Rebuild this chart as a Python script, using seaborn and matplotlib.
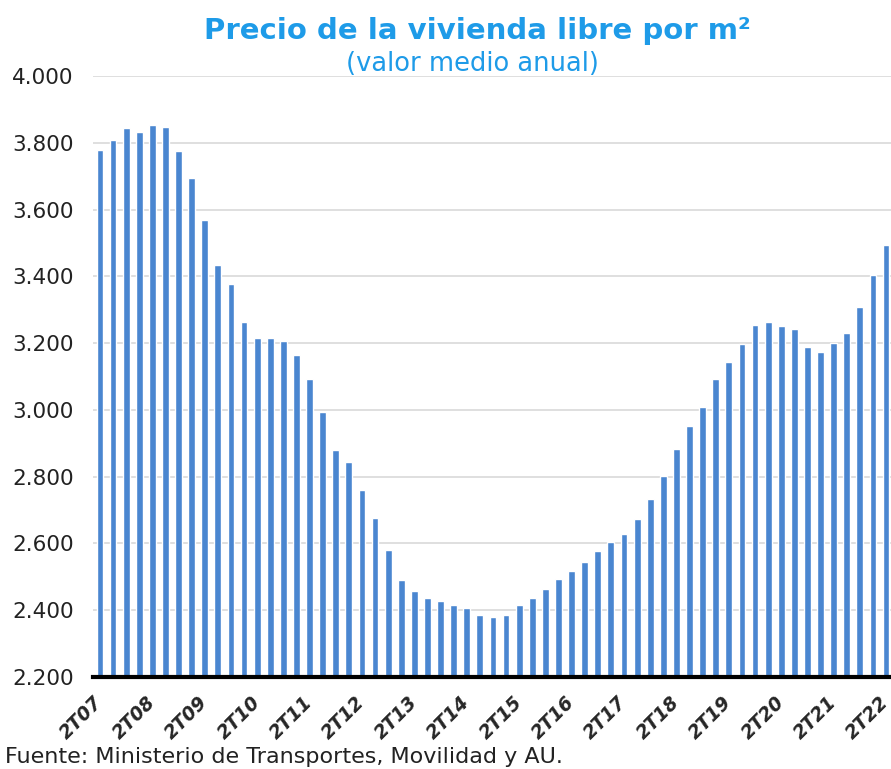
import pandas as pd
import matplotlib.pyplot as plt
import matplotlib.ticker as mticker
import seaborn as sns

# Quarterly price per m2 (euros), 2T07 .. 2T22
quarters = [f"{q}T{y:02d}" for y in range(7, 23) for q in (1, 2, 3, 4)][1:62]
prices = [3778, 3808, 3843, 3832, 3852, 3848, 3774, 3693, 3570, 3434,
          3376, 3262, 3216, 3216, 3205, 3165, 3093, 2994, 2879, 2845,
          2761, 2676, 2579, 2491, 2458, 2436, 2427, 2415, 2406, 2385,
          2379, 2385, 2415, 2436, 2464, 2494, 2518, 2545, 2576, 2603,
          2627, 2674, 2733, 2801, 2883, 2953, 3010, 3093, 3143, 3197,
          3254, 3262, 3251, 3243, 3189, 3173, 3200, 3230, 3308, 3405,
          3494]
yticks = list(range(2200, 4001, 200))

df = pd.DataFrame({'trimestre': quarters, 'precio': prices})

sns.set_style('white')
plt.rcParams['font.family'] = ['DejaVu Sans']

fig = plt.figure(figsize=(8.91, 7.69), dpi=100)
ax = fig.add_axes([0.1044, 0.1196, 0.8956, 0.7816])

sns.barplot(data=df, x='trimestre', y='precio', color='#4a86d0',
            saturation=1, width=0.52, ax=ax)

ax.set_ylim(2200, 4000)
ax.set_xlim(-0.53, 60.38)
ax.set_yticks(yticks)
ax.yaxis.set_major_formatter(mticker.FuncFormatter(lambda v, p: f"{int(v):,}".replace(',', '.')))
ax.yaxis.grid(True, color='#d9d9d9', linewidth=1.2)
ax.set_axisbelow(True)
for s in ['top', 'right', 'left']:
    ax.spines[s].set_visible(False)
ax.spines['bottom'].set_color('black')
ax.spines['bottom'].set_linewidth(3)

pos = list(range(0, len(quarters), 4))
ax.set_xticks(pos)
ax.set_xticklabels([quarters[i] for i in pos], rotation=45, ha='right', va='center',
                   rotation_mode='anchor', fontweight='bold', fontstyle='italic',
                   fontsize=13.5)
ax.tick_params(axis='x', length=0, pad=16)
ax.tick_params(axis='y', length=0, labelsize=15.5, labelcolor='#222222', pad=14)
ax.set_xlabel('')
ax.set_ylabel('')

fig.text(0.536, 0.960, 'Precio de la vivienda libre por m²', ha='center', va='center',
         fontsize=21, fontweight='bold', color='#1e9be8')
fig.text(0.530, 0.917, '(valor medio anual)', ha='center', va='center',
         fontsize=18.5, color='#1e9be8')
fig.text(0.006, 0.002, 'Fuente: Ministerio de Transportes, Movilidad y AU.',
         ha='left', va='bottom', fontsize=16, color='#222222')

fig.savefig('out.png', dpi=100)
